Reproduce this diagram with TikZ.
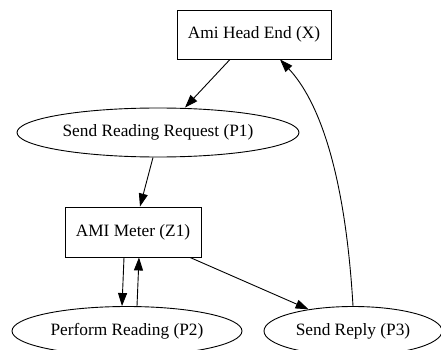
\documentclass[tikz,border=0pt]{standalone}
\usepackage{fontspec}
\setmainfont{Liberation Serif}
\usetikzlibrary{shapes.geometric,arrows.meta}
\tikzset{
  every node/.style={font=\fontsize{17.3}{20}\selectfont, inner sep=0pt},
  procbox/.style={draw, rectangle, line width=0.9pt},
  procoval/.style={draw, ellipse, line width=0.9pt},
  arr/.style={line width=0.9pt, -{Triangle[length=13pt,width=9pt]}}
}
\begin{document}
\begin{tikzpicture}[x=1pt,y=-1pt]
\useasboundingbox (0,0) rectangle (441,350);
% nodes
\node[procbox, minimum width=154pt, minimum height=49pt] (x) at (254,34.5) {Ami Head End (X)};
\node[procoval, minimum width=282pt, minimum height=49pt] (p1) at (158,132.5) {Send Reading Request (P1)};
\node[procbox, minimum width=136pt, minimum height=50pt] (z1) at (133,232) {AMI Meter (Z1)};
\node[procoval, minimum width=230pt, minimum height=49pt] (p2) at (127,331) {Perform Reading (P2)};
\node[procoval, minimum width=178pt, minimum height=49pt] (p3) at (353,331) {Send Reply (P3)};
% connectors
\draw[arr] ([xshift=-24pt]x.south) -- ([xshift=27pt]p1.north);
\draw[arr] ([xshift=-5pt]p1.south) -- ([xshift=7pt]z1.north);
\draw[arr] ([xshift=-9pt]z1.south) -- ([xshift=-5pt]p2.north);
\draw[arr] ([xshift=10pt]p2.north) -- ([xshift=6pt]z1.south);
\draw[arr] ([xshift=57pt]z1.south) -- (p3.154);
\draw[arr] (p3.north) .. controls (345,170) and (318,100) .. ([xshift=26pt]x.south);
\end{tikzpicture}
\end{document}
